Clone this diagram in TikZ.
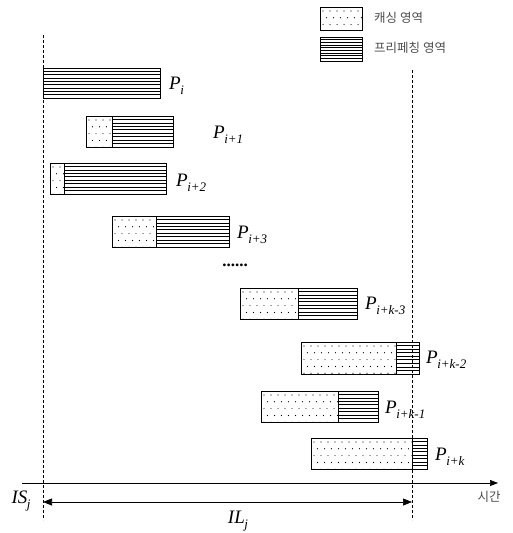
\documentclass[tikz,border=0pt]{standalone}
\usepackage{fontspec}
\setmainfont{Liberation Serif}
\newfontfamily\krfont{Noto Sans CJK KR}
\usetikzlibrary{arrows.meta}

\tikzset{
  barframe/.style={draw=black, line width=0.8pt},
  stripe/.style={draw=black, line width=0.65pt},
  speck/.style={fill=black},
  guide/.style={line width=0.6pt, dash pattern=on 3pt off 2pt},
  plab/.style={anchor=west, inner sep=1pt, font=\fontsize{19}{19}\selectfont},
  krtext/.style={anchor=west, inner sep=0pt, text=black!70, font=\krfont\fontsize{12.5}{12.5}\selectfont},
  axisline/.style={line width=0.7pt},
}

% italic letters with an italic subscript
\newcommand\sublabel[2]{\textit{#1}\kern-0.5pt\raisebox{-0.6ex}{\fontsize{13}{13}\selectfont\textit{#2}}}
\newcommand\plabel[1]{\sublabel{P}{#1}}

% dotted fill of a rectangle (x1,y1)-(x2,y2)
\newcommand\speckle[4]{%
  \begin{scope}
    \clip (#1,#2) rectangle (#3,#4);
    \foreach \r in {0,...,4} {
      \foreach \c in {0,...,16} {
        \fill[speck] ({#1+3+\c*7+mod(\r,2)*3.5},{#2+4+\r*6.8}) circle (0.6pt);
      }
    }
  \end{scope}}

% horizontal line fill of a rectangle (x1,y1)-(x2,y2)
\newcommand\stripes[4]{%
  \foreach \k in {1,...,8} {
    \draw[stripe] (#1,{#2+\k*(#4-#2)/9}) -- (#3,{#2+\k*(#4-#2)/9});
  }}

% bar: left, split, right, top, bottom
\newcommand\taskbar[5]{%
  \speckle{#1}{#4}{#2}{#5}
  \stripes{#2}{#4}{#3}{#5}
  \draw[barframe] (#1,#4) rectangle (#3,#5);
  \draw[barframe] (#2,#4) -- (#2,#5);}

\begin{document}
\begin{tikzpicture}[x=1pt,y=-1pt]
  \useasboundingbox (0,0) rectangle (512,533);

  % legend
  \speckle{320}{7}{362}{30}
  \draw[barframe] (320,7) rectangle (362,30);
  \stripes{320}{37}{362}{61}
  \draw[barframe] (320,37) rectangle (362,61);
  \node[krtext] (lgA) at (374,18) {캐싱 영역};
  \node[krtext] (lgB) at (374,48) {프리페칭 영역};

  % bars
  \taskbar{43}{43}{160}{68}{98}
  \taskbar{86}{112}{173}{116}{147}
  \taskbar{50}{64}{166}{163}{194}
  \taskbar{112}{156}{229}{216}{247}
  \taskbar{240}{298}{357}{288}{319}
  \taskbar{301}{396}{419}{342}{374}
  \taskbar{261}{338}{378}{391}{422}
  \taskbar{311}{412}{427}{438}{469}

  % interval boundaries
  \coordinate (sTop) at (43,35);
  \coordinate (sBot) at (43,520);
  \coordinate (eTop) at (412,70);
  \coordinate (eBot) at (412,520);
  \draw[guide] (sTop) -- (sBot);
  \draw[guide] (eTop) -- (eBot);

  % bar labels
  \node[plab] (p0) at (168,86) {\plabel{i}};
  \node[plab] (p1) at (212,135) {\plabel{i+1}};
  \node[plab] (p2) at (175,183) {\plabel{i+2}};
  \node[plab] (p3) at (236,235) {\plabel{i+3}};
  \node[plab, fill=white] (pk3) at (364,306) {\plabel{i+k-3}};
  \node[plab] (pk2) at (425,360) {\plabel{i+k-2}};
  \node[plab] (pk1) at (384,410) {\plabel{i+k-1}};
  \node[plab] (pk0) at (434,457) {\plabel{i+k}};
  \node[inner sep=0pt, font=\bfseries\fontsize{17}{17}\selectfont] (gap) at (235,265) {......};

  % time axis
  \coordinate (t0) at (22,483);
  \coordinate (t1) at (498,483);
  \draw[axisline, -{Triangle[length=8pt,width=6pt]}] (t0) -- (t1);
  \node[krtext, anchor=center] (tlab) at (489,497) {시간};

  % interval length
  \coordinate (ilL) at (43,502);
  \coordinate (ilR) at (412,502);
  \draw[axisline, {Triangle[length=9pt,width=7pt]}-{Triangle[length=9pt,width=7pt]}] (ilL) -- (ilR);
  \node[inner sep=0pt, font=\fontsize{19}{19}\selectfont] (isj) at (21,501) {\sublabel{IS}{j}};
  \node[inner sep=0pt, font=\fontsize{19}{19}\selectfont] (ilj) at (238,521) {\sublabel{IL}{j}};
\end{tikzpicture}
\end{document}
